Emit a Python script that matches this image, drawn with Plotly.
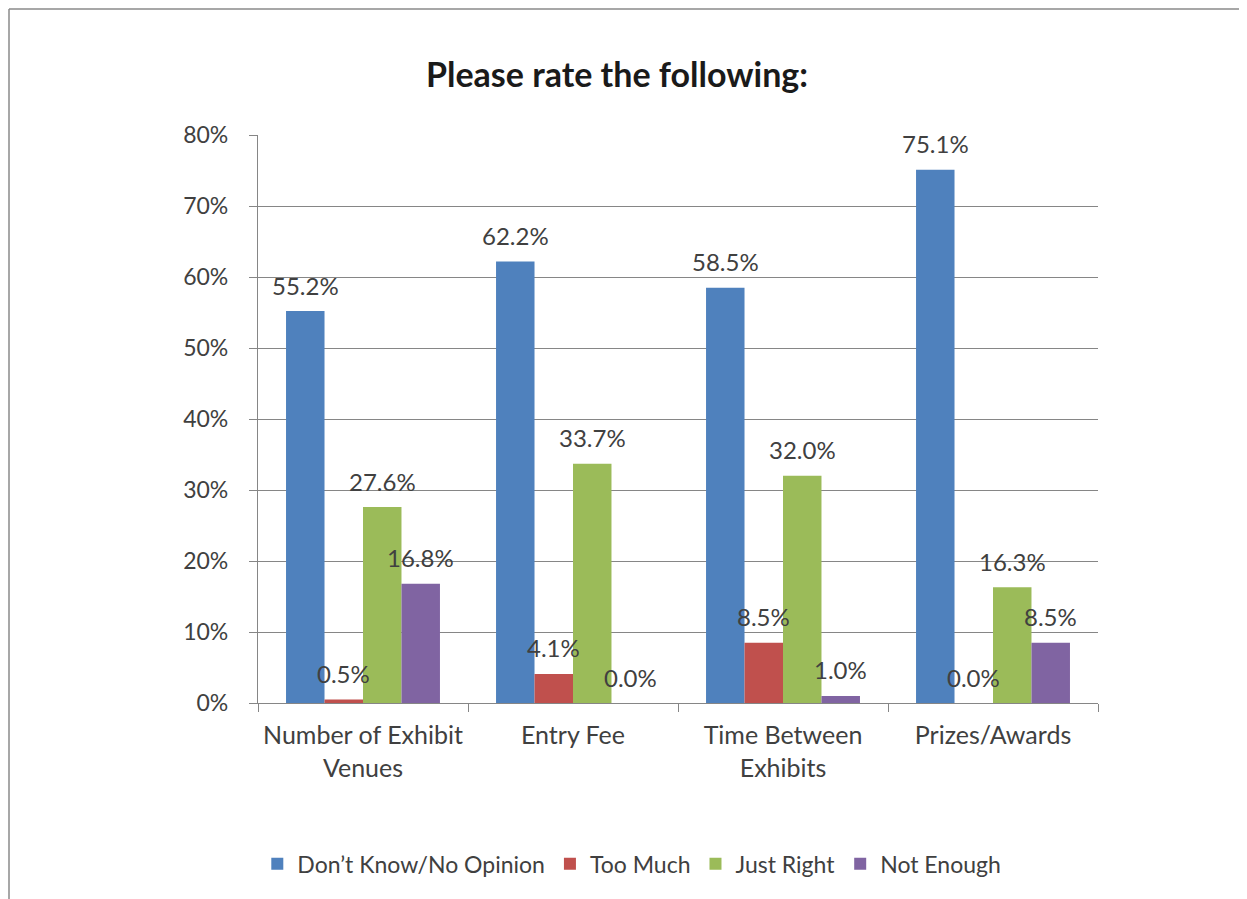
import plotly.graph_objects as go

categories = ["Number of Exhibit<br>Venues", "Entry Fee", "Time Between<br>Exhibits", "Prizes/Awards"]
series_names = ["Don’t Know/No Opinion", "Too Much", "Just Right", "Not Enough"]
dont_know = [0.552, 0.622, 0.585, 0.751]
too_much = [0.005, 0.041, 0.085, 0.000]
just_right = [0.276, 0.337, 0.320, 0.163]
not_enough = [0.168, 0.000, 0.010, 0.085]
series_values = [dont_know, too_much, just_right, not_enough]
colors = ["#4F81BD", "#C0504D", "#9BBB59", "#8064A2"]
y_ticks = [0, 0.1, 0.2, 0.3, 0.4, 0.5, 0.6, 0.7, 0.8]

FONT = "Lato"
TXT = "#404040"

W, H = 1239, 891
ML, MT = 250, 127
PW, PH = 840, 568
MR = W - ML - PW
MB = H - MT - PH
bargap = 0.267
bar_w = PW / len(categories) * (1 - bargap) / len(series_names)

fig = go.Figure()
for name, vals, col in zip(series_names, series_values, colors):
    fig.add_trace(go.Bar(x=categories, y=vals, name=name, marker_color=col,
                         marker_line_width=0))

annotations = []
n = len(series_names)
for i, vals in enumerate(series_values):
    shift = (i - (n - 1) / 2) * bar_w
    for c, v in zip(categories, vals):
        annotations.append(dict(x=c, y=v, xref="x", yref="y", text=f"{v*100:.1f}%",
                                showarrow=False, xshift=shift, yshift=26,
                                yanchor="middle", xanchor="center",
                                font=dict(family=FONT, size=24, color=TXT)))

# frame border (figure px -> paper coords): top and left edges only
bx0 = (1.0 - ML) / PW
by1 = (MT + PH - 1.0) / PH
border = dict(color="#8a8a8a", width=1.5)

fig.update_layout(
    width=W, height=H,
    margin=dict(l=ML, r=MR, t=MT, b=MB, autoexpand=False),
    paper_bgcolor="white", plot_bgcolor="white",
    barmode="group", bargap=bargap, bargroupgap=0,
    title=dict(text="<b>Please rate the following:</b>", x=609 / W, xanchor="center",
               y=1 - 67 / H, yanchor="middle",
               font=dict(family=FONT, size=34, color="#1a1a1a")),
    font=dict(family=FONT, size=22, color=TXT),
    showlegend=True,
    legend=dict(orientation="h", x=0.445, xanchor="center", y=-0.283, yanchor="middle",
                font=dict(family=FONT, size=23, color=TXT), traceorder="normal",
                itemsizing="constant"),
    annotations=annotations,
    shapes=[
        dict(type="line", xref="paper", yref="paper", x0=bx0, x1=1.5,
             y0=by1, y1=by1, line=border, layer="below"),
        dict(type="line", xref="paper", yref="paper", x0=bx0, x1=bx0,
             y0=-0.6, y1=by1, line=border, layer="below"),
    ],
)
fig.update_xaxes(showline=True, linecolor="#868686", linewidth=1.2,
                 ticks="outside", ticklen=8, tickcolor="#868686", tickson="boundaries",
                 ticklabelstandoff=10,
                 tickfont=dict(family=FONT, size=25, color=TXT), showgrid=False)
fig.update_yaxes(range=[0, 0.8], tickvals=y_ticks, tickformat=".0%",
                 showline=True, linecolor="#868686", linewidth=1.2,
                 ticks="outside", ticklen=8, tickcolor="#868686",
                 ticklabelstandoff=16,
                 showgrid=True, gridcolor="#868686", gridwidth=1,
                 zeroline=False,
                 tickfont=dict(family=FONT, size=23, color=TXT))

fig.write_html("out.html")
